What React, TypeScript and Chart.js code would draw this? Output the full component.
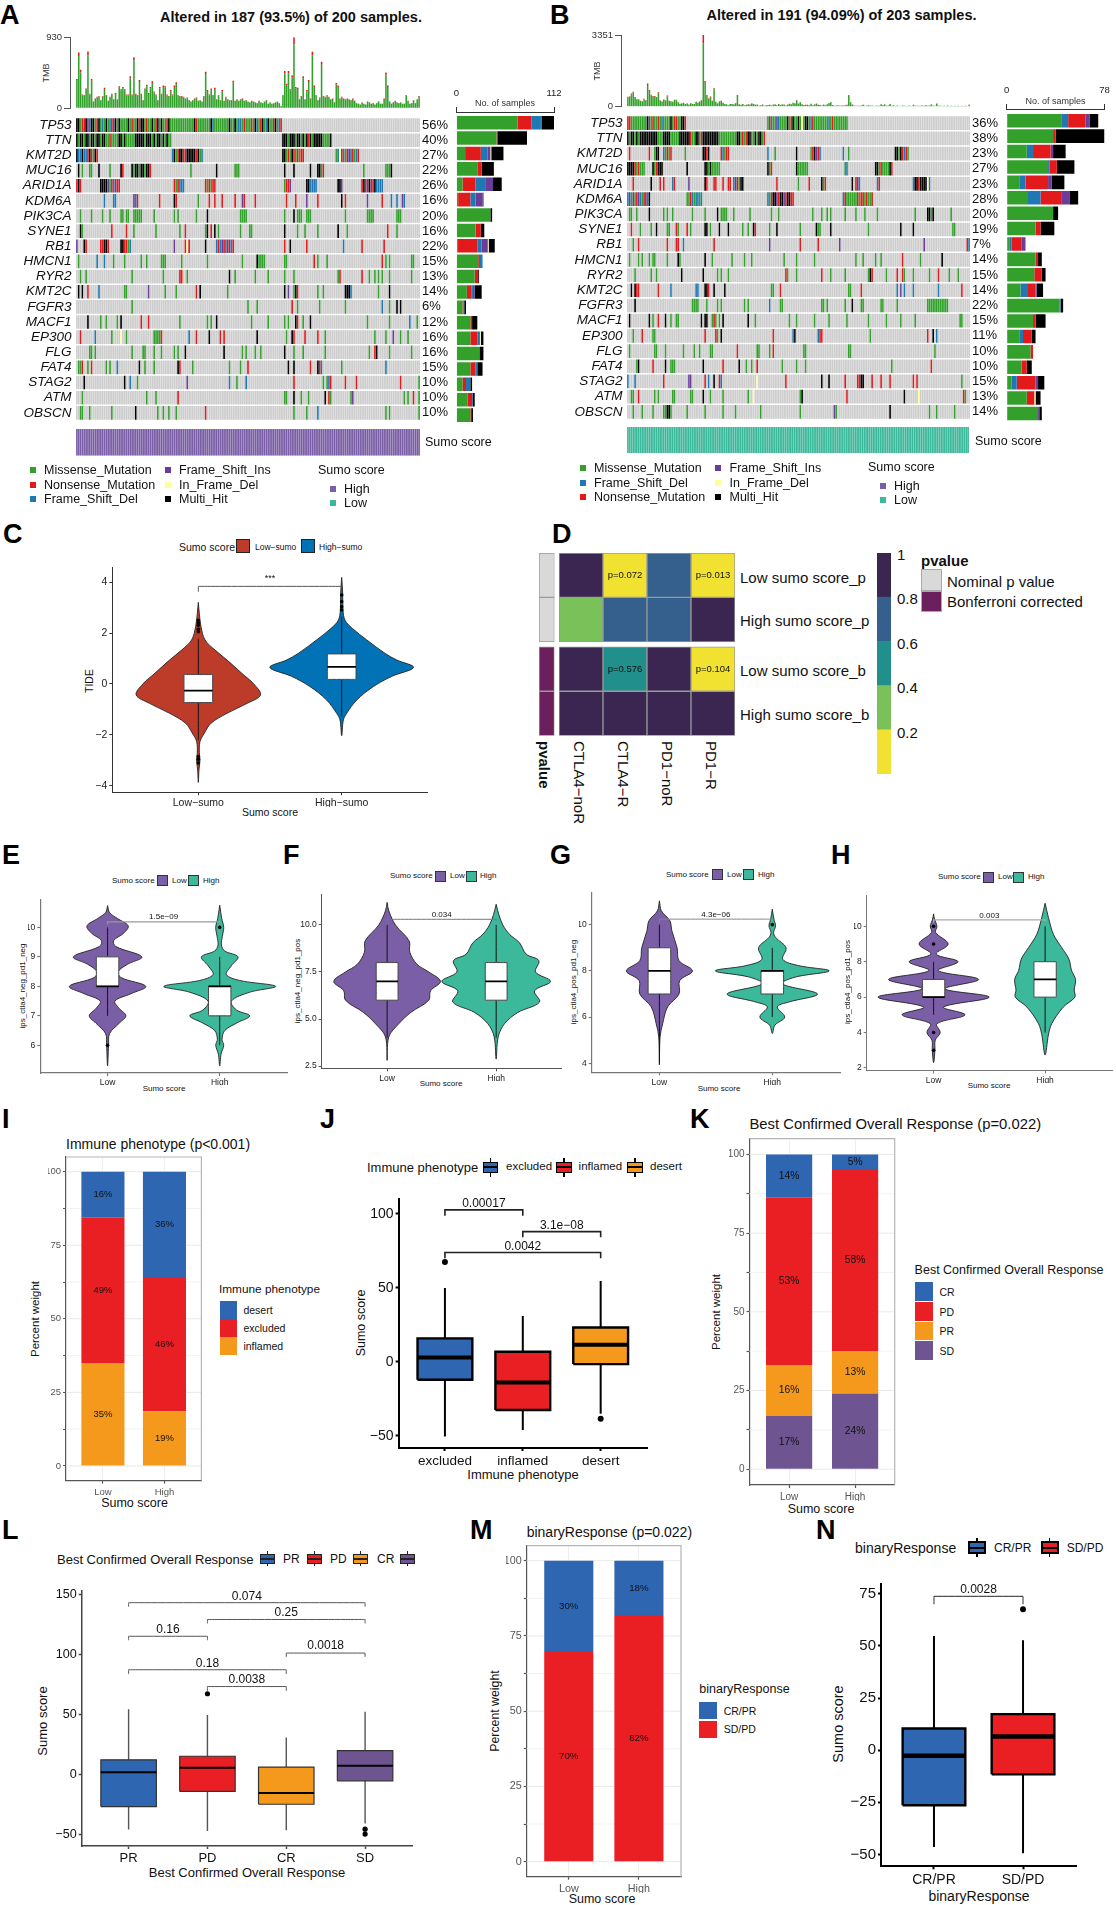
import React, { useEffect, useRef } from 'react';
import { Chart, registerables } from 'chart.js';

Chart.register(...registerables);
const FONT = '"Liberation Sans", Arial, sans-serif';
Chart.defaults.font.family = FONT;

/* ---------- oncoplot data ---------- */
const MUT: any = { m: '#33a02c', n: '#e31a1c', b: '#1f78b4', p: '#6a3d9a', y: '#ffff99', k: '#000000' };
const CELL_GREY = '#cdcdcd';
const genesA = ['TP53', 'TTN', 'KMT2D', 'MUC16', 'ARID1A', 'KDM6A', 'PIK3CA', 'SYNE1', 'RB1', 'HMCN1', 'RYR2', 'KMT2C', 'FGFR3', 'MACF1', 'EP300', 'FLG', 'FAT4', 'STAG2', 'ATM', 'OBSCN'];
const pctA = ['56%', '40%', '27%', '22%', '26%', '16%', '20%', '16%', '22%', '15%', '13%', '14%', '6%', '12%', '16%', '16%', '15%', '10%', '10%', '10%'];
const pctB = ['36%', '38%', '23%', '27%', '23%', '28%', '20%', '19%', '7%', '14%', '15%', '14%', '22%', '15%', '11%', '10%', '10%', '15%', '13%', '14%'];
const rowsA = [
  '0kkmnnkpbkkmnkmbmkmbnpkm 23kmmmmkmnmmknkkmnmmkmnkmkmmnkm 52mmmmmmmmmmmmk 65nmmmmmmm 73kbmmmmmmmm 83kmmkmbbmnmmm 95nmkbmnkmbkmmnkmbn',
  '0kmkkmkkmkkmkkmkkm 17mnmmmm 23kkmk 27mmmmmk 33kkkkmkkk 41mkmkkmkmk 50mm 112kkkmkkkmkkmkmknkmkkkkkmmmmk',
  '0kbbkbbnknmkn 52bkmnkknnkkkkknkmb 112kkmnmknmnmnn 141mbynbmnpbnmbn',
  '1k 3m 7mm 12k 18m 24kn 30kmkkmkkmkkn 62m 76k 86mmm 113k 118k 127k 131kkmn 156m 168mmmk',
  '0nkn 13kkkkpmnbpnn 53nmnbbb 70nmnmnn 113mnnp 125kkbbbb 142kkp 155nkpnkpnkbbbb',
  '15b 20bb 31pbn 45n 53kn 66m 72n 75n 79n 86n 90pn 97n 114n 119n 125p 131n 144k 146n 158p 166n 171b 174b 177p 178b',
  '2m 8m 14m 18m 24mm 27mm 31mmmmm 42m 53m 55m 65m 71k 89mmmm 113m 118k 120mmm 125mmm 146m 158mmmm 174mmm',
  '2km 19n 27n 31m 43m 56m 59n 70mk 73n 75k 77m 89m 94mm 113k 120m 124m 131m 142k 147m 169n 174m',
  '0p 4kn 13nnkkn 24kk 26nnmb 53p 59nyn 70k 76bnbpnbnpbn 113n 116k 125n 145b 155n 167n',
  '1m 11b 15b 20m 26m 35m 38m 46mmm 57m 71m 90m 98kmmmm 113m 114m 129n 131m 136m 166n 168m 170m 182mm',
  '2m 5m 30m 47m 56nn 60m 83k 86m 97m 104m 113m 118m 142m 143n 155n 159m 162m 164m 166m 170m 182m',
  '1k 3k 6n 12b 26mm 39p 48m 54m 65n 67k 82m 113k 115p 118mkn 131m 134m 146kkkb 164m 170k',
  '30m 93m 98m 117n 120m 132m 146m 166b 170m 174k 176k',
  '6k 13m 16m 22m 24k 35n 39n 56m 71m 73m 76k 95m 104m 113m 115m 119kn 123m 127k 158m 170m 181b 185m',
  '2n 10b 19m 24y 27m 42mmmmn 61b 65n 72k 78n 80n 98k 114m 117kn 124n 131n 135m 162m 168m 172p 176m 180m',
  '7mm 10m 30m 36mm 42m 46m 53m 55m 59k 80k 90m 92m 97m 100m 113k 118m 123m 135m 159m 162nk 170m 182m',
  '1mmn 6m 8n 16m 18m 22b 34k 37m 42m 55kn 63m 83m 89m 93n 115k 118k 127n 131kn 133b 144m 168b',
  '4k 26k 29b 33m 60p 83b 87m 92b 118n 134m 136m 137bn 146n 152n 176n 186m',
  '3m 38m 43m 55n 113m 114m 118k 122m 126m 135k 137nm 149mp 178m 180m 183n 186m',
  '2mm 7m 19m 32k 44m 47m 50m 54m 70n 118m 125m 131b 168m 170m 186m',
];
const rowsB = [
  '0nnmmmmmmmmmkpmnmmnmbmmmmkmnnmmkkn 78mnbmmpbmmmmkmnkmmkmymkkmbnmmmmmmmmbmnmmmmmmmm',
  '0kmkkmkmkkkkkkkkkkmmmkkkkmmmmmkkkkkknmmkkmnkkkkkkkkkmmmmmmmmmmkkmnmnkkmmkmkkmn',
  '1n 12n 15mk 17k 20bmnmn 32m 42kknk 52nbmnn 78b 82m 94k 102mnkpnb 120b 123m 149kkmknbnm',
  '0kkkkn 5mnmmm 14kmnkkk 33k 43kkmk 47mmmmm 78kmn 94kmmmmmm 121mb 138kkmnmmmmkn',
  '3n 13k 18n 20n 25bn 34p 43kn 48nn 53n 56nn 59bpnmkk 83n 95m 101n 108km 110n 125k 127npb 139bn 159bkknkkkkyb',
  '0bpmpmnpbmnpbk 33mmnbmbbmb 78bmnkkpnkkpnkknn 120bnmmmmmmnmnnmnmmn',
  '1mm 5m 12k 20m 22m 25m 36m 43m 50k 52mmmm 59m 68m 80m 84m 103m 108m 111m 113m 121m 127m 132m 139m 160m 167kkmk 180m',
  '2n 7m 13m 16k 22mm 27nm 33n 35m 43kk 46m 51k 56k 64m 67m 70kn 79m 83k 96m 105km 107m 113k 134m 152k 159k 181mm',
  '3m 6n 22n 27n 28n 31b 48n 79p 96n 106n 118p 165p 189nb',
  '1m 6m 8m 12m 14mm 22m 28k 29m 43k 47m 58m 65m 69m 87m 94m 104m 127m 131m 138m 141m 153n 163m 175k',
  '4m 13m 16m 30k 42k 50m 52m 56m 88nm 94m 108n 113m 121m 134m 135kn 144m 150n 153nm 159m 168m 173n 179m 184m',
  '2k 4k 5nn 17n 24b 38bb 43kkn 48k 54k 80m 81m 85n 123mm 130n 150b 152p 154b 159b 173b 186n',
  '4k 36mmmm 44m 50m 52m 65m 67m 79b 85mm 108mm 111m 121m 125k 130mm 141mm 150m 167mmmmmmmmmmmm',
  '1k 12k 14m 17n 21k 24m 27mm 41k 43kk 47mn 49m 51m 53k 67k 71m 90m 94m 104m 112m 122m 134m 144m 152m 160m 185mm',
  '3m 8n 14mm 43n 49nm 52k 81n 92b 93k 106bn 108n 135m 167n 170k 172b',
  '1m 15mm 21m 31m 37m 40m 46mm 61n 72mm 79m 81n 98mm 123mm 171m',
  '5m 6k 14n 21k 24mmm 42k 53n 62k 66m 69m 72n 86m 94m 99m 147m 169n',
  '0b 4b 20n 34p 35p 43n 45b 48k 51n 52b 72y 88n 108k 112k 121n 128n 129nk 131k 136n 141n 146n 159n 161n 186m',
  '2m 3m 6n 15m 17m 25m 26m 35mm 42k 46m 53m 67m 70y 96mk 122n 154k 162y 187nm',
  '3m 8m 14m 20mmkkm 33m 43m 53m 60m 74m 96m 115pm 146k 168m 172m 182m',
];
/* side bars: counts per gene, [missense, nonsense, frameshift del, frameshift ins, in-frame del, multi hit] */
const sideA = [
  [70, 16, 11, 1, 0, 14], [46, 1, 0, 0, 0, 34], [10, 18, 8, 3, 1, 14], [24, 5, 0, 0, 0, 14], [7, 15, 11, 9, 0, 10],
  [2, 14, 6, 8, 0, 1], [39, 0, 0, 0, 0, 2], [22, 6, 0, 0, 0, 4], [1, 23, 5, 7, 1, 7], [25, 2, 3, 0, 0, 0],
  [21, 4, 0, 0, 0, 1], [12, 5, 2, 2, 0, 8], [7, 1, 1, 0, 0, 2], [16, 2, 0, 0, 0, 6], [16, 8, 3, 0, 1, 3],
  [26, 1, 0, 0, 0, 4], [16, 6, 2, 0, 0, 6], [7, 4, 5, 0, 0, 2], [13, 5, 1, 0, 0, 2], [16, 1, 0, 0, 0, 2],
];
/* [missense, frameshift del, nonsense, frameshift ins, in-frame del, multi hit] */
const sideB = [
  [44, 5, 14, 3, 0, 7], [37, 0, 2, 0, 0, 39], [16, 5, 14, 2, 0, 10], [33, 1, 6, 0, 0, 14], [10, 5, 18, 3, 0, 10],
  [17, 10, 17, 6, 0, 7], [37, 0, 0, 0, 0, 4], [23, 0, 4, 0, 0, 11], [2, 2, 8, 3, 0, 0], [23, 0, 2, 0, 0, 3],
  [22, 0, 6, 0, 0, 3], [11, 6, 6, 1, 0, 5], [42, 1, 0, 0, 0, 2], [21, 0, 2, 0, 0, 8], [10, 3, 7, 0, 0, 3],
  [19, 0, 2, 0, 0, 0], [12, 0, 4, 0, 0, 4], [4, 4, 15, 2, 0, 5], [16, 0, 6, 0, 1, 4], [25, 0, 0, 1, 0, 2],
];
const tmbA = [385,730,505,180,170,260,745,190,385,90,130,150,160,110,160,270,170,100,150,190,120,200,120,290,250,280,250,180,180,420,180,670,190,170,370,190,110,260,310,200,280,355,220,180,110,280,190,300,290,180,160,240,180,300,340,170,160,160,150,130,140,110,90,110,130,140,100,110,90,160,480,240,180,260,170,270,120,170,110,240,100,150,120,110,110,360,100,120,100,120,130,100,110,90,80,100,90,80,70,100,80,70,90,110,60,80,60,70,80,90,70,30,170,490,320,490,250,430,930,280,270,120,160,420,120,240,370,130,740,300,170,110,140,610,160,150,170,150,120,130,80,330,300,130,150,130,120,130,120,110,130,100,70,60,50,80,60,50,90,80,60,70,50,70,90,60,60,130,470,300,90,60,80,100,80,70,80,60,60,170,100,60,70,110,70,120,160];
const tmbARed = [14,45,35,12,10,18,50,10,25,6,8,10,10,7,10,18,10,6,10,12,8,14,8,20,15,18,15,10,10,30,10,40,12,10,25,12,7,18,20,12,18,24,14,10,6,18,12,20,18,12,10,16,10,20,22,10,10,10,9,8,8,7,5,7,8,9,6,7,5,10,30,15,12,16,10,18,8,10,7,16,6,9,8,7,6,24,6,8,6,8,8,6,7,5,5,6,5,5,4,6,5,4,5,7,3,5,3,4,5,5,4,2,10,30,20,32,16,28,95,18,18,8,10,28,8,16,24,8,50,20,10,7,9,40,10,9,11,9,8,8,5,22,20,8,9,8,8,8,8,7,8,6,4,4,3,5,4,3,6,5,4,4,3,4,6,4,4,8,32,20,6,4,5,6,5,4,5,4,4,10,6,4,4,7,4,8,10];
const tmbB = [470,480,620,700,450,350,350,280,240,370,300,1090,780,560,500,500,440,670,300,240,340,300,520,280,250,230,330,320,220,140,160,190,130,160,100,170,130,130,230,190,240,310,3351,1200,550,380,480,280,860,230,160,250,280,180,130,110,70,130,130,110,170,550,110,90,130,70,90,120,100,160,130,90,100,60,70,100,50,70,80,90,60,100,110,70,130,80,110,100,60,100,140,120,190,160,310,150,220,110,80,90,90,70,140,70,110,150,90,80,60,100,70,120,170,220,80,50,60,70,40,60,60,70,90,530,220,100,60,40,50,50,60,90,40,50,70,40,60,30,50,40,40,120,70,110,40,60,130,40,70,30,40,50,30,60,40,30,40,40,30,90,40,40,50,40,60,50,70,40,60,110,40,40,150,50,40,30,40,30,60,30,40,30,50,30,40,30,50,30,40,30,90];
const tmbBRed = [30,30,40,50,30,24,24,18,16,24,20,70,50,36,32,32,28,45,20,16,22,20,36,18,16,15,22,22,14,9,10,12,9,10,7,11,9,9,15,12,16,20,390,75,36,25,32,18,60,15,10,16,18,12,9,7,5,9,9,7,11,38,7,6,9,5,6,8,7,11,9,6,7,4,5,7,4,5,5,6,4,7,7,5,9,5,7,7,4,7,10,8,13,11,20,10,15,7,5,6,6,5,9,5,7,10,6,5,4,7,5,8,11,15,5,4,4,5,3,4,4,5,6,35,15,7,4,3,4,4,4,6,3,4,5,3,4,2,4,3,3,8,5,7,3,4,9,3,5,2,3,4,2,4,3,2,3,3,2,6,3,3,4,3,4,4,5,3,4,7,3,3,10,4,3,2,3,2,4,2,3,2,4,2,3,2,4,2,3,2,6];

/* ---------- violin data: levels (top to bottom) and density ---------- */
const cLowLevels = [3.2, 2.77, 2.25, 1.73, 1.33, 0.94, 0.42, 0, -0.43, -0.76, -1.15, -1.54, -1.93, -2.26, -2.7, -2.98, -3.37, -3.86];
const cLowDensity = [0, 3, 8, 20, 50, 86, 130, 166, 186, 146, 86, 38, 18, 5, 3, 5, 2, 0];
const cHighLevels = [4.18, 3.56, 2.9, 2.5, 2.18, 1.73, 1.2, 0.94, 0.65, 0.3, -0.1, -0.63, -1.15, -1.41, -2.03];
const cHighDensity = [0, 3, 4, 10, 32, 75, 130, 165, 215, 150, 95, 45, 15, 5, 0];
const cLowBox = [-2.2, -0.73, -0.26, 0.37, 1.78];
const cHighBox = [-1.28, 0.18, 0.67, 1.18, 2.64];
const cLowOut = [2.5, 2.4, 2.3, 2.15, 2.05, -2.85, -2.95, -3.1];
const cHighOut = [3.49, 3.23, 3.03, 2.9];

const eLowLevels = [10.74, 10.5, 10.3, 10.05, 9.8, 9.55, 9.35, 9, 8.75, 8.5, 8.3, 8, 7.75, 7.5, 7.25, 7, 6.75, 6.4, 6, 5.3];
const eLowDensity = [0, 6, 30, 62, 48, 18, 25, 103, 60, 32, 40, 115, 70, 22, 35, 55, 35, 6, 3, 0];
const eHighLevels = [10.75, 10.3, 10, 9.7, 9.4, 9.2, 9, 8.7, 8.4, 8.2, 8, 7.8, 7.5, 7.2, 7, 6.75, 6.5, 6.2, 6, 5.7, 5.3];
const eHighDensity = [0, 6, 12, 8, 5, 15, 55, 35, 20, 60, 168, 90, 35, 50, 90, 50, 15, 7, 12, 4, 0];
const fLowLevels = [11.2, 10.75, 10, 9.15, 8.55, 7.9, 7.5, 7, 6.5, 6, 5.35, 4.75, 4.05, 2.8];
const fLowDensity = [0, 5, 25, 66, 68, 90, 125, 160, 130, 125, 71, 35, 5, 0];
const fHighLevels = [11.1, 10.55, 10, 9.5, 9.05, 8.45, 8.1, 7.5, 7, 6.5, 5.9, 5.35, 4.75, 4.05, 2.87];
const fHighDensity = [0, 8, 20, 40, 70, 90, 128, 118, 163, 115, 130, 65, 25, 6, 0];
const gLowLevels = [11.03, 10.6, 10.17, 9.74, 9, 8.44, 8, 7.58, 7, 6.44, 5.72, 5.14, 3.93];
const gLowDensity = [0, 6, 32, 38, 54, 60, 101, 62, 60, 25, 10, 2, 0];
const gHighLevels = [10.67, 10.24, 9.95, 9.66, 9.45, 9, 8.5, 8.23, 8, 7.73, 7.44, 7, 6.65, 6.44, 6, 5.65, 5.29];
const gHighDensity = [0, 5, 10, 4, 10, 42, 32, 80, 174, 70, 30, 138, 50, 15, 38, 8, 0];
const hLowLevels = [10.7, 10.4, 10, 9.65, 9, 8.43, 8, 7.5, 7, 6.47, 6, 5.44, 5, 4.5, 4, 3.57, 3, 2.3];
const hLowDensity = [0, 3, 10, 6, 44, 8, 74, 14, 136, 35, 168, 30, 95, 10, 20, 5, 4, 0];
const hHighLevels = [11.3, 10.5, 9.55, 8.8, 8.15, 7.5, 7, 6.4, 6, 5.44, 4.5, 3.87, 2.73];
const hHighDensity = [0, 10, 25, 50, 72, 80, 92, 88, 90, 55, 20, 10, 0];

/* box stats: [lower whisker, q1, median, q3, upper whisker] */
const eLowBox = [7, 8, 8, 9, 10];
const eHighBox = [6, 7, 8, 8, 9];
const fLowBox = [4, 6, 7, 8, 10];
const fHighBox = [4, 6, 7, 8, 10];
const gLowBox = [4, 7, 8, 9, 10];
const gHighBox = [6, 7, 8, 8, 9];
const hLowBox = [5, 6, 6, 7, 8];
const hHighBox = [4, 6, 7, 8, 10];

const jLabels = ['excluded', 'inflamed', 'desert'];
const jBoxes = [[-50.5, -12.1, 2.9, 15.9, 50], [-46, -32.5, -13.9, 6.8, 31], [-35, -1.5, 11.5, 23.2, 54.7]];
const jOutliers = [[67.5], [], [-38.5]];
const jBrackets = [
  { a: 1, b: 2, y: 102.7, ta: 98.7, tb: 98.7, label: '0.00017', ly: 106.7 },
  { a: 2, b: 3, y: 88, ta: 84.3, tb: 84.3, label: '3.1e−08', ly: 92 },
  { a: 1, b: 3, y: 73.9, ta: 70, tb: 70, label: '0.0042', ly: 78 },
];
const lLabels = ['PR', 'PD', 'CR', 'SD'];
const lBoxes = [[-45.5, -26.3, 2.2, 12.6, 54.8], [-46.6, -13.7, 6, 15.6, 49.9], [-46, -24.4, -15, 6.6, 31.2], [-40.5, -4.9, 7.7, 20.3, 52.6]];
const lOutliers = [[], [67.7], [], [-45.2, -49.3]];
const lBrackets = [
  { a: 1, b: 4, y: 143.6, ta: 140.3, tb: 140.3, label: '0.074', ly: 149 },
  { a: 2, b: 4, y: 129.6, ta: 126.3, tb: 126.3, label: '0.25', ly: 135.3 },
  { a: 1, b: 2, y: 115.6, ta: 112.3, tb: 112.3, label: '0.16', ly: 121.4 },
  { a: 3, b: 4, y: 101.6, ta: 98.4, tb: 98.4, label: '0.0018', ly: 107.4 },
  { a: 1, b: 3, y: 87.7, ta: 84.1, tb: 84.1, label: '0.18', ly: 92.9 },
  { a: 2, b: 3, y: 73.7, ta: 70.1, tb: 70.1, label: '0.0038', ly: 79.2 },
];
const nLabels = ['CR/PR', 'SD/PD'];
const nBoxes = [[-46.4, -26.4, -2.7, 10.4, 54.7], [-49.5, -11.6, 6.6, 17.3, 52.7]];
const nOutliers = [[], [67.6]];
const nBrackets = [{ a: 1, b: 2, y: 73.8, ta: 70, tb: 70, label: '0.0028', ly: 76.9 }];

/* percent stacks (bottom to top) */
const BLUE = '#2e66b1', RED = '#e91f24', ORANGE = '#f5991c', PLUM = '#6e5592';
const VPURPLE = '#7b5fa6', VTEAL = '#3cb89b';
const iInflamed = [35, 18.6], iExcluded = [49.5, 45.6], iDesert = [15.5, 35.8];
const iText = [['35%', '19%'], ['49%', '46%'], ['16%', '36%']];
const kSD = [16.9, 24.1], kPR = [16.2, 13.3], kPD = [53.3, 58], kCR = [13.6, 4.6];
const kText = [['17%', '24%'], ['16%', '13%'], ['53%', '58%'], ['14%', '5%']];
const mSDPD = [70, 82], mCRPR = [30, 18];
const mText = [['70%', '82%'], ['30%', '18%']];

/* heatmap D */
const heatCols = ['CTLA4−noR', 'CTLA4−R', 'PD1−noR', 'PD1−R'];
const heatLowP = [0.95, 0.072, 0.7, 0.013];
const heatHighP = [0.3, 0.7, 0.7, 0.9];
const heatLowB = [1, 0.576, 1, 0.104];
const heatHighB = [1, 1, 1, 1];
const HEAT = ['#f1e130', '#7bc15a', '#218f8c', '#355f8d', '#3b2652'];
const heatColor = (v: number) => HEAT[Math.min(4, Math.floor(v * 5))];
const colorbarBands = [1, 1, 1, 1, 1];

/* ---------- helpers ---------- */
type Plot = { L: number; T: number; R: number; B: number };
type Marg = { l: number; t: number; r: number; b: number };
const geo = (p: Plot, m: Marg) => {
  const left = Math.floor(p.L - m.l), top = Math.floor(p.T - m.t);
  const width = Math.ceil(p.R + m.r) - left, height = Math.ceil(p.B + m.b) - top;
  return { left, top, width, height, ml: p.L - left, mt: p.T - top, mr: left + width - p.R, mb: top + height - p.B };
};
const decode = (row: string, n: number) => {
  const cells: (string | null)[] = Array(n).fill(null);
  row.split(' ').forEach((tok) => {
    const m = tok.match(/^(\d+)([a-z]+)$/);
    if (!m) return;
    [...m[2]].forEach((c, i) => { const k = +m[1] + i; if (k < n) cells[k] = c; });
  });
  return cells;
};
const notesPlugin = (notes: any[]) => ({
  id: 'notes',
  afterDraw(chart: any) {
    const { ctx, scales } = chart;
    ctx.save();
    ctx.textAlign = 'center';
    ctx.textBaseline = 'middle';
    notes.forEach((n) => {
      ctx.font = `${n.size}px ${FONT}`;
      ctx.fillStyle = n.color || '#111';
      ctx.fillText(n.text, scales.x.getPixelForValue(n.x), scales.y.getPixelForValue(n.y));
    });
    ctx.restore();
  },
});
const polyFill = {
  id: 'polyFill',
  beforeDatasetDraw(chart: any, args: any) {
    const ds = chart.data.datasets[args.index];
    if (!ds.polyFill || !args.meta.dataset) return;
    const ctx = chart.ctx, line = args.meta.dataset;
    line.updateControlPoints(chart.chartArea);
    ctx.save();
    ctx.fillStyle = ds.polyFill;
    ctx.beginPath();
    line.path(ctx);
    ctx.closePath();
    ctx.fill();
    ctx.restore();
  },
};
Chart.register(polyFill);
const framePlugin = (color: string) => ({
  id: 'frame',
  afterDraw(chart: any) {
    const { ctx, chartArea: a } = chart;
    ctx.save();
    ctx.strokeStyle = color;
    ctx.lineWidth = 1.2;
    ctx.beginPath();
    ctx.moveTo(a.left, a.top);
    ctx.lineTo(a.right, a.top);
    ctx.lineTo(a.right, a.bottom);
    ctx.stroke();
    ctx.restore();
  },
});

const axis = (g: any, dim: 'x' | 'y', o: any) => {
  const base: any = {
    type: 'linear', min: o.min, max: o.max, offset: false, reverse: !!o.reverse, stacked: !!o.stacked,
    display: o.display !== false, position: o.position,
    ticks: {
      autoSkip: false, maxRotation: 0, minRotation: 0, font: o.font, color: o.color || '#222', padding: o.pad ?? 3,
      callback: (v: number, i: number) => (o.labels ? o.labels[i] : o.fmt ? o.fmt(v) : String(v).replace('-', '−')),
    },
    border: { display: o.line !== undefined, color: o.line, width: o.lineW ?? 1 },
    grid: {
      display: true, drawOnChartArea: !!o.gridColor, drawTicks: !!o.tickLen, tickLength: o.tickLen || 0,
      color: o.gridColor || o.line || 'transparent', tickColor: o.tickColor || o.line, tickWidth: o.lineW ?? 1, offset: false,
    },
    afterBuildTicks: (s: any) => { s.ticks = o.ticks.map((value: number) => ({ value })); },
  };
  if (o.display !== false) {
    if (dim === 'x') base.afterFit = (s: any) => { s.height = o.position === 'top' ? g.mt : g.mb; };
    else base.afterFit = (s: any) => { s.width = o.position === 'right' ? g.mr : g.ml; };
  }
  return base;
};
const baseOptions = (g: any, f: any, scales: any) => ({
  responsive: false, maintainAspectRatio: false, animation: false, events: [],
  layout: {
    padding: {
      left: f.yShown ? 0 : g.ml, top: f.xTop ? 0 : g.mt, right: f.y2 ? 0 : g.mr, bottom: f.xShown && !f.xTop ? 0 : g.mb,
    },
  },
  plugins: { legend: { display: false }, tooltip: { enabled: false }, title: { display: false } },
  scales,
});
const lineDs = (pts: any[], color: string, width: number, extra: any = {}) => ({
  type: 'scatter', data: pts, showLine: true, borderColor: color, borderWidth: width, pointRadius: 0, tension: 1e-4, fill: false, ...extra,
});
const pointsDs = (pts: any[], radius: number, color = '#000') => ({
  type: 'scatter', data: pts, pointRadius: radius, pointBackgroundColor: color, pointBorderWidth: 0, showLine: false,
});
const violinDs = (x: number, levels: number[], dens: number[], scale: number, fill: string) => {
  const right = levels.map((v, i) => ({ x: x + dens[i] * scale, y: v }));
  const left = levels.map((v, i) => ({ x: x - dens[i] * scale, y: v })).reverse().slice(1);
  return lineDs([...right, ...left], '#222', 0.9, { tension: 0.35, polyFill: fill });
};
const boxDs = (x: number, s: number[], out: number[], w: number, fill: string, st: any) => {
  const [lo, q1, med, q3, hi] = s;
  const h = w / 2;
  return [
    lineDs([{ x, y: lo }, { x, y: hi }], st.whisker, st.whiskerW),
    lineDs([{ x: x - h, y: q1 }, { x: x + h, y: q1 }, { x: x + h, y: q3 }, { x: x - h, y: q3 }, { x: x - h, y: q1 }], st.border, st.borderW, { polyFill: fill }),
    lineDs([{ x: x - h, y: med }, { x: x + h, y: med }], '#000', st.medW),
    pointsDs(out.map((y) => ({ x, y })), st.outR),
  ];
};
const ordered = (ds: any[]) => ds.map((d, i) => ({ ...d, order: -i }));
const bracketDs = (b: any, color: string, w: number) =>
  lineDs([{ x: b.a, y: b.ta }, { x: b.a, y: b.y }, { x: b.b, y: b.y }, { x: b.b, y: b.tb }], color, w);

/* ---------- chart configs ---------- */
const oncoCfg = (rows: string[], n: number, pct: string[]) => (g: any) => ({
  type: 'bar',
  data: {
    datasets: rows.map((r, gi) => {
      const cells = decode(r, n);
      return {
        data: cells.map((_, i) => ({ x: i, y: [gi - 0.45, gi + 0.45] })),
        backgroundColor: cells.map((c) => (c ? MUT[c] : CELL_GREY)),
        grouped: false, barPercentage: 0.9, categoryPercentage: 1, borderWidth: 0,
      };
    }),
  },
  options: baseOptions(g, { yShown: true, y2: true }, {
    x: axis(g, 'x', { min: -0.5, max: n - 0.5, ticks: [], display: false }),
    y: axis(g, 'y', { min: -0.5, max: 19.5, reverse: true, ticks: genesA.map((_, i) => i), labels: genesA, position: 'left', font: { size: 13.5, style: 'italic' }, color: '#111', pad: 4.5 }),
    y2: { ...axis(g, 'y', { min: -0.5, max: 19.5, reverse: true, ticks: genesA.map((_, i) => i), labels: pct, position: 'right', font: { size: 13 }, color: '#111', pad: 2 }), axis: 'y' },
  }),
});
const tmbCfg = (tot: number[], red: number[], xMin: number) => (g: any) => {
  const top = Math.max(...tot);
  return {
    type: 'bar',
    data: {
      datasets: [
        { data: tot.map((v, i) => ({ x: i, y: v - red[i] })), backgroundColor: MUT.m, barPercentage: 0.85, categoryPercentage: 1 },
        { data: red.map((v, i) => ({ x: i, y: v })), backgroundColor: MUT.n, barPercentage: 0.85, categoryPercentage: 1 },
      ],
    },
    options: baseOptions(g, { yShown: true }, {
      x: axis(g, 'x', { min: xMin, max: tot.length - 0.5, ticks: [], display: false, stacked: true }),
      y: axis(g, 'y', { min: 0, max: top, ticks: [0, top], position: 'left', font: { size: 9.5 }, color: '#333', line: '#555', tickLen: 6, stacked: true, pad: 2 }),
    }),
  };
};
const sideCfg = (side: number[][], max: number, order: string[], yMin: number) => (g: any) => ({
  type: 'bar',
  data: {
    datasets: order.map((c, k) => ({
      data: side.map((r, i) => ({ x: r[k], y: i })), backgroundColor: MUT[c], barPercentage: 0.88, categoryPercentage: 1,
    })),
  },
  options: {
    ...baseOptions(g, { xShown: true, xTop: true }, {
      x: axis(g, 'x', { min: 0, max, ticks: [0, max], position: 'top', font: { size: 9.5 }, color: '#222', line: '#333', tickLen: 5, stacked: true, pad: 8 }),
      y: axis(g, 'y', { min: yMin, max: 19.5, reverse: true, ticks: [], display: false, stacked: true }),
    }),
    indexAxis: 'y',
  },
});
const annCfg = (n: number, color: string) => (g: any) => ({
  type: 'bar',
  data: { datasets: [{ data: Array.from({ length: n }, (_, i) => ({ x: i, y: 1 })), backgroundColor: color, barPercentage: 0.92, categoryPercentage: 1 }] },
  options: baseOptions(g, {}, {
    x: axis(g, 'x', { min: -0.5, max: n - 0.5, ticks: [], display: false }),
    y: axis(g, 'y', { min: 0, max: 1, ticks: [], display: false }),
  }),
});
const vAxisStyle = {
  x: (g: any, labels: string[], size: number, line: string, lineW: number, pad = 2) =>
    axis(g, 'x', { min: 0.4, max: 2.6, ticks: [1, 2], labels, position: 'bottom', font: { size }, color: '#222', line, lineW, tickLen: 3, pad }),
};
const violinCfg = (o: any) => (g: any) => ({
  type: 'scatter',
  data: { datasets: ordered(o.datasets) },
  options: baseOptions(g, { yShown: true, xShown: true }, {
    x: vAxisStyle.x(g, o.xLabels, o.tick, o.line, o.lineW),
    y: axis(g, 'y', { min: o.yMin, max: o.yMax, ticks: o.yTicks, position: 'left', font: { size: o.tick }, color: '#222', line: o.line, lineW: o.lineW, tickLen: 3, pad: 2, fmt: o.fmt }),
  }),
  plugins: [notesPlugin(o.notes)],
});
const percentCfg = (o: any) => (g: any) => {
  const cum = [0, 0];
  const notes: any[] = [];
  o.series.forEach((s: any) => {
    s.values.forEach((v: number, i: number) => {
      notes.push({ x: i + 1, y: cum[i] + v / 2, text: s.text[i], size: o.labelSize });
      cum[i] += v;
    });
  });
  return {
    type: 'bar',
    data: {
      datasets: o.series.map((s: any) => ({
        data: s.values.map((v: number, i: number) => ({ x: i + 1, y: v })), backgroundColor: s.color, barPercentage: 0.7, categoryPercentage: 1,
      })),
    },
    options: baseOptions(g, { yShown: true, xShown: true }, {
      x: axis(g, 'x', { min: 0.4, max: 2.6, ticks: [1, 2], labels: ['Low', 'High'], position: 'bottom', font: { size: o.tick }, color: '#555', line: '#555', lineW: 1.2, tickLen: 3, gridColor: '#eeeeee', stacked: true, pad: 3 }),
      y: {
        ...axis(g, 'y', { min: -5, max: 105, ticks: [0, 12.5, 25, 37.5, 50, 62.5, 75, 87.5, 100], position: 'left', font: { size: o.tick }, color: '#555', line: '#555', lineW: 1.2, tickLen: 3, stacked: true, pad: 2, fmt: (v: number) => (v % 25 === 0 ? String(v) : '') }),
      },
    }),
    plugins: [notesPlugin(notes), framePlugin('#b5b5b5'), {
      id: 'ygrid',
      beforeDatasetsDraw(chart: any) {
        const { ctx, chartArea: a, scales } = chart;
        ctx.save();
        [0, 12.5, 25, 37.5, 50, 62.5, 75, 87.5, 100].forEach((v) => {
          ctx.strokeStyle = v % 25 === 0 ? '#e9e9e9' : '#f3f3f3';
          ctx.lineWidth = 1;
          ctx.beginPath();
          ctx.moveTo(a.left, scales.y.getPixelForValue(v));
          ctx.lineTo(a.right, scales.y.getPixelForValue(v));
          ctx.stroke();
        });
        ctx.restore();
      },
    }],
  };
};
const boxPlotCfg = (o: any) => (g: any) => {
  const ds: any[] = [];
  o.boxes.forEach((s: number[], i: number) => ds.push(...boxDs(i + 1, s, o.out[i], 0.704, o.colors[i], o.st)));
  o.brackets.forEach((b: any) => ds.push(bracketDs(b, o.bracketColor, o.bracketW)));
  const n = o.boxes.length;
  return {
    type: 'scatter',
    data: { datasets: ordered(ds) },
    options: baseOptions(g, { yShown: true, xShown: true }, {
      x: axis(g, 'x', { min: 0.405, max: n + 0.595, ticks: o.labels.map((_: any, i: number) => i + 1), labels: o.labels, position: 'bottom', font: { size: o.tickX }, color: '#111', line: o.line, lineW: o.lineW, tickLen: 3, pad: 2 }),
      y: axis(g, 'y', { min: o.yMin, max: o.yMax, ticks: o.yTicks, position: 'left', font: { size: o.tickY }, color: '#111', line: o.line, lineW: o.lineW, tickLen: 3, pad: 2 }),
    }),
    plugins: [notesPlugin(o.brackets.map((b: any) => ({ x: (b.a + b.b) / 2, y: b.ly, text: b.label, size: o.noteSize })))],
  };
};
const heatCfg = (g: any) => {
  const row = (vals: number[]) => ({
    data: vals.map((_, i) => ({ x: i + 1, y: 1 })), backgroundColor: vals.map(heatColor), borderColor: '#9a9a9a', borderWidth: 1, borderSkipped: false, barPercentage: 1, categoryPercentage: 1,
  });
  const gap = { data: [1, 2, 3, 4].map((x) => ({ x, y: 0.114 })), backgroundColor: 'transparent', barPercentage: 1, categoryPercentage: 1 };
  return {
    type: 'bar',
    data: { datasets: [row(heatHighB), row(heatLowB), gap, row(heatHighP), row(heatLowP)] },
    options: baseOptions(g, {}, {
      x: axis(g, 'x', { min: 0.5, max: 4.5, ticks: [], display: false, stacked: true }),
      y: axis(g, 'y', { min: 0, max: 4.114, ticks: [], display: false, stacked: true }),
    }),
    plugins: [notesPlugin([
      { x: 2, y: 3.614, text: 'p=0.072', size: 9.5 }, { x: 4, y: 3.614, text: 'p=0.013', size: 9.5 },
      { x: 2, y: 1.5, text: 'p=0.576', size: 9.5 }, { x: 4, y: 1.5, text: 'p=0.104', size: 9.5 },
    ])],
  };
};
const heatAnnCfg = (g: any) => {
  const seg = (c: string) => ({ data: [{ x: 1, y: 1 }], backgroundColor: c, borderColor: '#9a9a9a', borderWidth: 1, borderSkipped: false, barPercentage: 1, categoryPercentage: 1 });
  return {
    type: 'bar',
    data: { datasets: [seg('#6b1f5c'), seg('#6b1f5c'), { data: [{ x: 1, y: 0.114 }], backgroundColor: 'transparent', barPercentage: 1, categoryPercentage: 1 }, seg('#d9d9d9'), seg('#d9d9d9')] },
    options: baseOptions(g, {}, {
      x: axis(g, 'x', { min: 0.5, max: 1.5, ticks: [], display: false, stacked: true }),
      y: axis(g, 'y', { min: 0, max: 4.114, ticks: [], display: false, stacked: true }),
    }),
  };
};
const colorbarCfg = (g: any) => ({
  type: 'bar',
  data: { datasets: colorbarBands.map((v, i) => ({ data: [{ x: 1, y: v }], backgroundColor: HEAT[i], barPercentage: 1, categoryPercentage: 1 })) },
  options: baseOptions(g, {}, {
    x: axis(g, 'x', { min: 0.5, max: 1.5, ticks: [], display: false, stacked: true }),
    y: axis(g, 'y', { min: 0, max: 5, ticks: [], display: false, stacked: true }),
  }),
});

/* ---------- components ---------- */
function Panel({ plot, m, cfg }: any) {
  const ref = useRef<HTMLCanvasElement>(null);
  const g = geo(plot, m);
  useEffect(() => {
    const c = new Chart(ref.current as any, cfg(g));
    return () => c.destroy();
  }, []);
  return (
    <div style={{ position: 'absolute', left: g.left, top: g.top, width: g.width, height: g.height }}>
      <canvas ref={ref} width={g.width} height={g.height} style={{ display: 'block' }} />
    </div>
  );
}
function T({ x, y, s = 12, a = 'l', rot = 0, b = false, c = '#111', children }: any) {
  const tx = a === 'l' ? 0 : a === 'c' ? -50 : -100;
  return (
    <div style={{ position: 'absolute', left: x, top: y, fontSize: s, lineHeight: 1, whiteSpace: 'nowrap', fontWeight: b ? 700 : 400, color: c, transform: `translate(${tx}%,-50%) rotate(${rot}deg)` }}>
      {children}
    </div>
  );
}
function Sw({ x, y, w, h, c, bd }: any) {
  return <div style={{ position: 'absolute', left: x, top: y, width: w, height: h, background: c, boxSizing: 'border-box', border: bd ? `1px solid ${bd}` : undefined }} />;
}
function BoxKey({ x, w, y0, y1, wt, wb, c, bw = 1.5, col = '#000' }: any) {
  return (
    <>
      <div style={{ position: 'absolute', left: x + w / 2 - 0.75, top: wt, width: 1.5, height: wb - wt, background: col }} />
      <div style={{ position: 'absolute', left: x, top: y0, width: w, height: y1 - y0, background: c, boxSizing: 'border-box', border: `${bw}px solid ${col}` }} />
      <div style={{ position: 'absolute', left: x, top: (y0 + y1) / 2 - 1, width: w, height: 2, background: col }} />
    </>
  );
}
function VLegend({ x, y, sw1, t1, sw2, t2 }: any) {
  return (
    <>
      <T x={x} y={y} s={8}>Sumo score</T>
      <Sw x={sw1} y={y - 5.5} w={11} h={11} c={VPURPLE} bd="#333" />
      <T x={t1} y={y} s={8}>Low</T>
      <Sw x={sw2} y={y - 5.5} w={11} h={11} c={VTEAL} bd="#333" />
      <T x={t2} y={y} s={8}>High</T>
    </>
  );
}
const whiteBox = { whisker: '#111', whiskerW: 1, border: '#444', borderW: 1, medW: 1.8, outR: 1.8 };
const oneVio = (low: any, high: any, sc: number, cLow: string, cHigh: string, brk: any, bc: string, out: any) => [
  violinDs(1, low[0], low[1], sc, cLow),
  violinDs(2, high[0], high[1], sc, cHigh),
  ...boxDs(1, low[2], out[0], 0.2, '#ffffff', whiteBox),
  ...boxDs(2, high[2], out[1], 0.2, '#ffffff', whiteBox),
  bracketDs(brk, bc, brk.w),
];
const legendRowsA = [['Missense_Mutation', MUT.m], ['Nonsense_Mutation', MUT.n], ['Frame_Shift_Del', MUT.b]];
const legendRowsA2 = [['Frame_Shift_Ins', MUT.p], ['In_Frame_Del', MUT.y], ['Multi_Hit', MUT.k]];
const legendRowsB = [['Missense_Mutation', MUT.m], ['Frame_Shift_Del', MUT.b], ['Nonsense_Mutation', MUT.n]];

const letters: [string, number, number][] = [
  ['A', 0, 15], ['B', 550, 14.5], ['C', 3, 534], ['D', 552, 534], ['E', 2, 855], ['F', 283, 855], ['G', 550, 855], ['H', 831, 855],
  ['I', 2, 1119], ['J', 320, 1119], ['K', 690, 1119], ['L', 2, 1530], ['M', 470, 1530], ['N', 816, 1530],
];

export default function App() {
  return (
    <div style={{ position: 'absolute', left: 0, top: 0, width: 1116, height: 1905, fontFamily: FONT, background: '#fff', overflow: 'hidden' }}>
      {letters.map(([l, x, y]) => <T key={l} x={x} y={y} s={27} b c="#000">{l}</T>)}

      {/* A */}
      <T x={291} y={17} s={14.5} b a="c" c="#111">Altered in 187 (93.5%) of 200 samples.</T>
      <T x={46} y={73} s={9} a="c" rot={-90} c="#333">TMB</T>
      <Panel plot={{ L: 70, T: 37.3, R: 420, B: 108.3 }} m={{ l: 30, t: 10, r: 4, b: 10 }} cfg={tmbCfg(tmbA, tmbARed, -3.76)} />
      <Panel plot={{ L: 76, T: 115, R: 420, B: 422.8 }} m={{ l: 76, t: 10, r: 34, b: 10 }} cfg={oncoCfg(rowsA, 187, pctA)} />
      <Panel plot={{ L: 456.4, T: 112, R: 554, B: 422.8 }} m={{ l: 14, t: 26, r: 18, b: 4 }} cfg={sideCfg(sideA, 112, ['m', 'n', 'b', 'p', 'y', 'k'], -0.695)} />
      <T x={505} y={103} s={9} a="c" c="#333">No. of samples</T>
      <Panel plot={{ L: 76, T: 429, R: 420, B: 455.7 }} m={{ l: 2, t: 2, r: 2, b: 2 }} cfg={annCfg(187, VPURPLE)} />
      <T x={425} y={442} s={12.5}>Sumo score</T>
      {legendRowsA.map(([t, c], i) => (
        <React.Fragment key={t}>
          <Sw x={30} y={467 + 14.6 * i} w={6} h={6} c={c} />
          <T x={44} y={470 + 14.6 * i} s={12.5}>{t}</T>
        </React.Fragment>
      ))}
      {legendRowsA2.map(([t, c], i) => (
        <React.Fragment key={t}>
          <Sw x={165} y={467 + 14.6 * i} w={6} h={6} c={c} />
          <T x={179} y={470 + 14.6 * i} s={12.5}>{t}</T>
        </React.Fragment>
      ))}
      <T x={318} y={470} s={12.5}>Sumo score</T>
      <Sw x={330} y={486} w={6} h={6} c={VPURPLE} /><T x={344} y={489} s={12.5}>High</T>
      <Sw x={330} y={500} w={6} h={6} c={VTEAL} /><T x={344} y={503} s={12.5}>Low</T>

      {/* B */}
      <T x={841.5} y={15} s={14.5} b a="c" c="#111">Altered in 191 (94.09%) of 203 samples.</T>
      <T x={597} y={71} s={9} a="c" rot={-90} c="#333">TMB</T>
      <Panel plot={{ L: 621, T: 35, R: 970, B: 106.7 }} m={{ l: 30, t: 10, r: 4, b: 8 }} cfg={tmbCfg(tmbB, tmbBRed, -3.84)} />
      <Panel plot={{ L: 627, T: 113, R: 970, B: 421.2 }} m={{ l: 76, t: 10, r: 34, b: 10 }} cfg={oncoCfg(rowsB, 191, pctB)} />
      <Panel plot={{ L: 1006.7, T: 109, R: 1104.5, B: 421.2 }} m={{ l: 14, t: 26, r: 18, b: 4 }} cfg={sideCfg(sideB, 78, ['m', 'b', 'n', 'p', 'y', 'k'], -0.76)} />
      <T x={1055.6} y={101} s={9} a="c" c="#333">No. of samples</T>
      <Panel plot={{ L: 627, T: 427, R: 969, B: 453 }} m={{ l: 2, t: 2, r: 2, b: 2 }} cfg={annCfg(191, VTEAL)} />
      <T x={975} y={441} s={12.5}>Sumo score</T>
      {legendRowsB.map(([t, c], i) => (
        <React.Fragment key={t}>
          <Sw x={580} y={465 + 14.6 * i} w={6} h={6} c={c} />
          <T x={594} y={468 + 14.6 * i} s={12.5}>{t}</T>
        </React.Fragment>
      ))}
      {legendRowsA2.map(([t, c], i) => (
        <React.Fragment key={t}>
          <Sw x={715} y={465 + 14.6 * i} w={6} h={6} c={c} />
          <T x={729.5} y={468 + 14.6 * i} s={12.5}>{t}</T>
        </React.Fragment>
      ))}
      <T x={868} y={467} s={12.5}>Sumo score</T>
      <Sw x={880} y={483} w={6} h={6} c={VPURPLE} /><T x={894} y={486} s={12.5}>High</T>
      <Sw x={880} y={497} w={6} h={6} c={VTEAL} /><T x={894} y={500} s={12.5}>Low</T>

      {/* C */}
      <T x={179} y={547} s={10.5}>Sumo score</T>
      <Sw x={236} y={539} w={14} h={14} c="#bc3c29" bd="#222" />
      <T x={255} y={547} s={8.5}>Low−sumo</T>
      <Sw x={301} y={539} w={14} h={14} c="#0072b5" bd="#222" />
      <T x={319} y={547} s={8.5}>High−sumo</T>
      <T x={89} y={681} s={10.5} a="c" rot={-90}>TIDE</T>
      <T x={270} y={812} s={10.5} a="c">Sumo score</T>
      <Panel plot={{ L: 112.3, T: 567, R: 427.7, B: 792.3 }} m={{ l: 16, t: 10, r: 6, b: 14 }} cfg={violinCfg({
        xLabels: ['Low−sumo', 'High−sumo'], tick: 10.5, line: '#333', lineW: 1, yMin: -4.25, yMax: 4.59, yTicks: [-4, -2, 0, 2, 4],
        datasets: oneVio([cLowLevels, cLowDensity, cLowBox], [cHighLevels, cHighDensity, cHighBox], 1 / 429, '#bc3c29', '#0072b5', { a: 1, b: 2, y: 3.83, ta: 3.62, tb: 3.78, w: 1 }, '#555', [cLowOut, cHighOut]),
        notes: [{ x: 1.5, y: 4.12, text: '***', size: 9 }],
      })} />

      {/* D */}
      <Panel plot={{ L: 539, T: 553, R: 554.5, B: 735.7 }} m={{ l: 1, t: 1, r: 1, b: 1 }} cfg={heatAnnCfg} />
      <Panel plot={{ L: 559, T: 553, R: 735, B: 735.7 }} m={{ l: 1, t: 1, r: 1, b: 1 }} cfg={heatCfg} />
      <Panel plot={{ L: 877, T: 553, R: 891, B: 774 }} m={{ l: 1, t: 1, r: 1, b: 1 }} cfg={colorbarCfg} />
      {[['Low sumo score_p', 576.7], ['High sumo score_p', 620], ['Low sumo score_b', 670], ['High sumo score_b', 714]].map(([t, y]: any) => <T key={t} x={740} y={y} s={15}>{t}</T>)}
      {[['1', 554], ['0.8', 598], ['0.6', 643], ['0.4', 687], ['0.2', 732]].map(([t, y]: any) => <T key={t} x={897} y={y} s={15}>{t}</T>)}
      <T x={921} y={560} s={15} b>pvalue</T>
      <Sw x={921} y={569} w={21} h={22} c="#d9d9d9" bd="#aaa" />
      <Sw x={921} y={591} w={21} h={21} c="#6b1f5c" bd="#aaa" />
      <T x={947} y={581} s={15}>Nominal p value</T>
      <T x={947} y={601} s={15}>Bonferroni corrected</T>
      <div style={{ position: 'absolute', left: 544.5, top: 740.7, transform: 'translateX(-50%)', writingMode: 'vertical-rl', fontSize: 15, fontWeight: 700, lineHeight: 1, color: '#111' }}>pvalue</div>
      {heatCols.map((t, i) => (
        <div key={t} style={{ position: 'absolute', left: 579 + 44.3 * i, top: 740.7, transform: 'translateX(-50%)', writingMode: 'vertical-rl', fontSize: 15, lineHeight: 1, color: '#111', whiteSpace: 'nowrap' }}>{t}</div>
      ))}

      {/* E */}
      <VLegend x={112} y={880.7} sw1={157} t1={172} sw2={188} t2={203} />
      <T x={23} y={985.7} s={8} a="c" rot={-90}>ips_ctla4_neg_pd1_neg</T>
      <T x={164} y={1089} s={8} a="c">Sumo score</T>
      <Panel plot={{ L: 40.3, T: 898, R: 287.4, B: 1073 }} m={{ l: 12, t: 6, r: 3, b: 12 }} cfg={violinCfg({
        xLabels: ['Low', 'High'], tick: 8.5, line: '#777', lineW: 1.2, yMin: 5.06, yMax: 10.96, yTicks: [6, 7, 8, 9, 10],
        datasets: oneVio([eLowLevels, eLowDensity, eLowBox], [eHighLevels, eHighDensity, eHighBox], 1 / 337, VPURPLE, VTEAL, { a: 1, b: 2, y: 10.19, ta: 10.1, tb: 10.14, w: 1.2 }, '#999', [[6], [10]]),
        notes: [{ x: 1.5, y: 10.35, text: '1.5e−09', size: 8 }],
      })} />

      {/* F */}
      <VLegend x={390} y={876} sw1={435} t1={450} sw2={466} t2={480} />
      <T x={297.5} y={980.7} s={8} a="c" rot={-90}>ips_ctla4_neg_pd1_pos</T>
      <T x={441} y={1084} s={8} a="c">Sumo score</T>
      <Panel plot={{ L: 321.7, T: 893, R: 561.6, B: 1068.3 }} m={{ l: 24, t: 6, r: 3, b: 12 }} cfg={violinCfg({
        xLabels: ['Low', 'High'], tick: 8.5, line: '#555', lineW: 1, yMin: 2.38, yMax: 11.64, yTicks: [2.5, 5, 7.5, 10], fmt: (v: number) => v.toFixed(1),
        datasets: oneVio([fLowLevels, fLowDensity, fLowBox], [fHighLevels, fHighDensity, fHighBox], 1 / 327, VPURPLE, VTEAL, { a: 1, b: 2, y: 10.3, ta: 10.15, tb: 10.2, w: 1 }, '#777', [[], []]),
        notes: [{ x: 1.5, y: 10.53, text: '0.034', size: 8 }],
      })} />

      {/* G */}
      <VLegend x={666} y={874.7} sw1={712} t1={727} sw2={743} t2={758} />
      <T x={573.7} y={982} s={8} a="c" rot={-90}>ips_ctla4_pos_pd1_neg</T>
      <T x={719} y={1088.7} s={8} a="c">Sumo score</T>
      <Panel plot={{ L: 591.7, T: 891, R: 840.7, B: 1072.3 }} m={{ l: 12, t: 6, r: 3, b: 12 }} cfg={violinCfg({
        xLabels: ['Low', 'High'], tick: 8.5, line: '#777', lineW: 1.2, yMin: 3.61, yMax: 11.41, yTicks: [4, 6, 8, 10],
        datasets: oneVio([gLowLevels, gLowDensity, gLowBox], [gHighLevels, gHighDensity, gHighBox], 1 / 345, VPURPLE, VTEAL, { a: 1, b: 2, y: 10.24, ta: 10.1, tb: 10.18, w: 1 }, '#888', [[], [10]]),
        notes: [{ x: 1.5, y: 10.42, text: '4.3e−06', size: 8 }],
      })} />

      {/* H */}
      <VLegend x={938} y={877} sw1={983} t1={998} sw2={1013} t2={1028} />
      <T x={848} y={981.7} s={8} a="c" rot={-90}>ips_ctla4_pos_pd1_pos</T>
      <T x={989} y={1085.7} s={8} a="c">Sumo score</T>
      <Panel plot={{ L: 866.7, T: 894, R: 1114, B: 1070.3 }} m={{ l: 12, t: 6, r: 1.9, b: 12 }} cfg={violinCfg({
        xLabels: ['Low', 'High'], tick: 8.5, line: '#777', lineW: 1, yMin: 1.87, yMax: 11.76, yTicks: [2, 4, 6, 8, 10],
        datasets: oneVio([hLowLevels, hLowDensity, hLowBox], [hHighLevels, hHighDensity, hHighBox], 1 / 337, VPURPLE, VTEAL, { a: 1, b: 2, y: 10.36, ta: 10.2, tb: 10.28, w: 1.2 }, '#aaa', [[10, 9, 4, 3], []]),
        notes: [{ x: 1.5, y: 10.6, text: '0.003', size: 8 }],
      })} />

      {/* I */}
      <T x={66} y={1144} s={14}>Immune phenotype (p&lt;0.001)</T>
      <T x={36} y={1319} s={11.5} a="c" rot={-90}>Percent weight</T>
      <T x={134.5} y={1503} s={12.5} a="c">Sumo score</T>
      <Panel plot={{ L: 66, T: 1157, R: 201.4, B: 1480.6 }} m={{ l: 18, t: 8, r: 3, b: 16 }} cfg={percentCfg({
        tick: 9.5, labelSize: 9.5,
        series: [{ values: iInflamed, color: ORANGE, text: iText[0] }, { values: iExcluded, color: RED, text: iText[1] }, { values: iDesert, color: BLUE, text: iText[2] }],
      })} />
      <T x={219} y={1290} s={11.8}>Immune phenotype</T>
      {[['desert', BLUE, 1301], ['excluded', RED, 1319], ['inflamed', ORANGE, 1337]].map(([t, c, y]: any) => (
        <React.Fragment key={t}>
          <Sw x={220} y={y} w={17} h={17.5} c={c} />
          <T x={243.4} y={y + 8.5} s={10.5}>{t}</T>
        </React.Fragment>
      ))}

      {/* J */}
      <T x={367} y={1167} s={13}>Immune phenotype</T>
      <BoxKey x={482.5} w={15.5} y0={1161.7} y1={1173} wt={1158.3} wb={1176.7} c={BLUE} />
      <T x={506} y={1167} s={11.5}>excluded</T>
      <BoxKey x={556} w={15.5} y0={1161.7} y1={1173} wt={1158.3} wb={1176.7} c={RED} />
      <T x={578.6} y={1167} s={11.5}>inflamed</T>
      <BoxKey x={627} w={15.5} y0={1161.7} y1={1173} wt={1158.3} wb={1176.7} c={ORANGE} />
      <T x={650} y={1167} s={11.5}>desert</T>
      <T x={361} y={1322.7} s={12.5} a="c" rot={-90}>Sumo score</T>
      <T x={523} y={1474} s={13} a="c">Immune phenotype</T>
      <Panel plot={{ L: 398.6, T: 1195, R: 647.7, B: 1448 }} m={{ l: 28, t: 6, r: 3, b: 20 }} cfg={boxPlotCfg({
        labels: jLabels, boxes: jBoxes, out: jOutliers, colors: [BLUE, RED, ORANGE], brackets: jBrackets, yMin: -58.2, yMax: 109.8, yTicks: [-50, 0, 50, 100],
        tickX: 13.5, tickY: 14, noteSize: 12, line: '#000', lineW: 2, bracketColor: '#222', bracketW: 1.6,
        st: { whisker: '#000', whiskerW: 2, border: '#000', borderW: 2.4, medW: 4, outR: 3 },
      })} />

      {/* K */}
      <T x={749.5} y={1124} s={14.8}>Best Confirmed Overall Response (p=0.022)</T>
      <T x={716.7} y={1311.7} s={11.5} a="c" rot={-90}>Percent weight</T>
      <T x={821} y={1508.7} s={12.5} a="c">Sumo score</T>
      <Panel plot={{ L: 749.5, T: 1138.7, R: 894.7, B: 1485 }} m={{ l: 20, t: 8, r: 3, b: 16 }} cfg={percentCfg({
        tick: 10, labelSize: 10.3,
        series: [{ values: kSD, color: PLUM, text: kText[0] }, { values: kPR, color: ORANGE, text: kText[1] }, { values: kPD, color: RED, text: kText[2] }, { values: kCR, color: BLUE, text: kText[3] }],
      })} />
      <T x={914.6} y={1270} s={12.5}>Best Confirmed Overall Response</T>
      {[['CR', BLUE, 1282], ['PD', RED, 1302], ['PR', ORANGE, 1321.5], ['SD', PLUM, 1341]].map(([t, c, y]: any) => (
        <React.Fragment key={t}>
          <Sw x={914.6} y={y} w={18} h={18.5} c={c} />
          <T x={939.5} y={y + 9.5} s={10.5}>{t}</T>
        </React.Fragment>
      ))}

      {/* L */}
      <T x={57} y={1558.7} s={13}>Best Confirmed Overall Response</T>
      <BoxKey x={260} w={15} y0={1553.7} y1={1563.7} wt={1551} wb={1566} c={BLUE} bw={1} col="#222" />
      <T x={283} y={1558.7} s={12}>PR</T>
      <BoxKey x={307} w={15} y0={1553.7} y1={1563.7} wt={1551} wb={1566} c={RED} bw={1} col="#222" />
      <T x={330} y={1558.7} s={12}>PD</T>
      <BoxKey x={353} w={15} y0={1553.7} y1={1563.7} wt={1551} wb={1566} c={ORANGE} bw={1} col="#222" />
      <T x={377} y={1558.7} s={12}>CR</T>
      <BoxKey x={400} w={15} y0={1553.7} y1={1563.7} wt={1551} wb={1566} c={PLUM} bw={1} col="#222" />
      <T x={42.3} y={1720.7} s={13} a="c" rot={-90}>Sumo score</T>
      <T x={247} y={1871.7} s={13} a="c">Best Confirmed Overall Response</T>
      <Panel plot={{ L: 81.7, T: 1587, R: 413, B: 1846 }} m={{ l: 30, t: 6, r: 3, b: 20 }} cfg={boxPlotCfg({
        labels: lLabels, boxes: lBoxes, out: lOutliers, colors: [BLUE, RED, ORANGE, PLUM], brackets: lBrackets, yMin: -59.2, yMax: 153.7, yTicks: [-50, 0, 50, 100, 150],
        tickX: 13, tickY: 12.6, noteSize: 12, line: '#444', lineW: 1.5, bracketColor: '#555', bracketW: 1,
        st: { whisker: '#555', whiskerW: 1.4, border: '#333', borderW: 1.2, medW: 2, outR: 2.6 },
      })} />

      {/* M */}
      <T x={526.7} y={1531.7} s={14}>binaryResponse (p=0.022)</T>
      <T x={495} y={1710.7} s={12.3} a="c" rot={-90}>Percent weight</T>
      <T x={602} y={1899} s={12.5} a="c">Sumo score</T>
      <Panel plot={{ L: 526.7, T: 1545.7, R: 681, B: 1876.7 }} m={{ l: 20, t: 8, r: 3, b: 16 }} cfg={percentCfg({
        tick: 10.8, labelSize: 9.7,
        series: [{ values: mSDPD, color: RED, text: mText[0] }, { values: mCRPR, color: BLUE, text: mText[1] }],
      })} />
      <T x={699.3} y={1689} s={12.5}>binaryResponse</T>
      <Sw x={699.3} y={1701.7} w={18} h={17.6} c={BLUE} />
      <Sw x={699.3} y={1720.7} w={18} h={17.3} c={RED} />
      <T x={723.7} y={1710.7} s={10.5}>CR/PR</T>
      <T x={723.7} y={1729} s={10.5}>SD/PD</T>

      {/* N */}
      <T x={855} y={1547.7} s={14}>binaryResponse</T>
      <BoxKey x={968} w={18} y0={1541} y1={1554} wt={1538} wb={1557} c={BLUE} bw={2} />
      <T x={994} y={1547.7} s={12}>CR/PR</T>
      <BoxKey x={1040.7} w={18} y0={1541} y1={1554} wt={1538} wb={1557} c={RED} bw={2} />
      <T x={1066.7} y={1547.7} s={12}>SD/PD</T>
      <T x={838.3} y={1724} s={14.5} a="c" rot={-90}>Sumo score</T>
      <T x={979} y={1895.7} s={14} a="c">binaryResponse</T>
      <Panel plot={{ L: 881, T: 1579.3, R: 1076.7, B: 1866.3 }} m={{ l: 30, t: 6, r: 3, b: 20 }} cfg={boxPlotCfg({
        labels: nLabels, boxes: nBoxes, out: nOutliers, colors: [BLUE, RED], brackets: nBrackets, yMin: -55.7, yMax: 79.7, yTicks: [-50, -25, 0, 25, 50, 75],
        tickX: 14, tickY: 15, noteSize: 12, line: '#000', lineW: 2, bracketColor: '#222', bracketW: 1,
        st: { whisker: '#000', whiskerW: 2, border: '#000', borderW: 2.4, medW: 4.5, outR: 3 },
      })} />
    </div>
  );
}
